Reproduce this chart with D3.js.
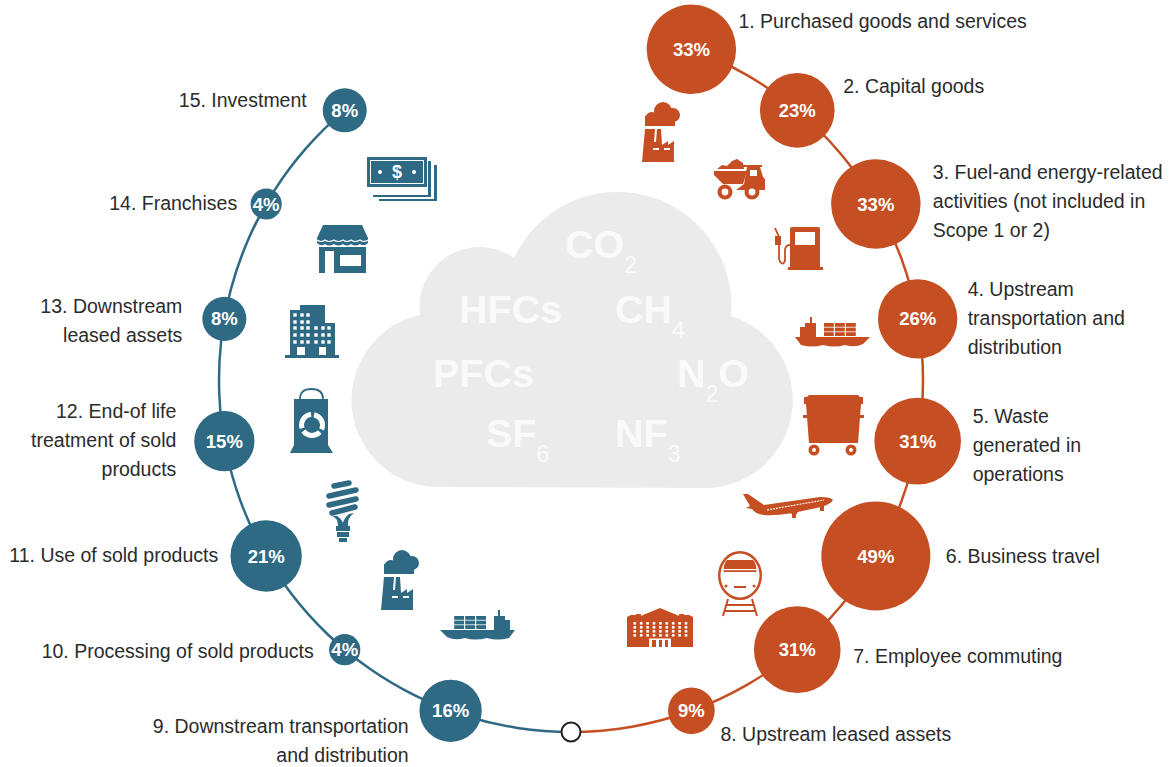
<!DOCTYPE html>
<html>
<head>
<meta charset="utf-8">
<script src="https://cdn.jsdelivr.net/npm/d3@7/dist/d3.min.js"></script>
<style>
    html, body { margin: 0; padding: 0; background: #fff; }
    svg { display: block; font-family: "Liberation Sans", Arial, sans-serif; }
</style>
</head>
<body>
<div id="container"></div>
<script>
//scope 3 categories, one entry per line of label
var categories = [
    ["1. Purchased goods and services"],
    ["2. Capital goods"],
    ["3. Fuel-and energy-related", "activities (not included in", "Scope 1 or 2)"],
    ["4. Upstream", "transportation and", "distribution"],
    ["5. Waste", "generated in", "operations"],
    ["6. Business travel"],
    ["7. Employee commuting"],
    ["8. Upstream leased assets"],
    ["9. Downstream transportation", "and distribution"],
    ["10. Processing of sold products"],
    ["11. Use of sold products"],
    ["12. End-of life", "treatment of sold", "products"],
    ["13. Downstream", "leased assets"],
    ["14. Franchises"],
    ["15. Investment"]
];
var shares = [33, 23, 33, 26, 31, 49, 31, 9, 16, 4, 21, 15, 8, 4, 8];
var gases = ["CO", "HFCs", "CH", "PFCs", "N", "SF", "NF"];
var gasSubs = ["2", "", "4", "", "2", "6", "3"];
var gasTails = ["", "", "", "", "O", "", ""];
var iconNames = ["factory", "truck", "pump", "ship", "dumpster", "plane", "train", "campus",
    "shipFlip", "factory", "bulb", "bag", "office", "shop", "money"];

(function(){
    function setChart(){
        var width = 1174,
            height = 767,
            orange = "#c64e23",
            teal = "#2f6a85";

        var svg = d3.select("#container")
            .append("svg")
            .attr("width", width)
            .attr("height", height);

        //18 slots round the ring, slot 0 (the top) stays empty and slot 9 is the open marker
        var angle = d3.scaleLinear().domain([0, 18]).range([0, 2 * Math.PI]);
        var ring = d3.scaleLinear().domain([0, 1]).range([0, 352]);
        var size = d3.scaleSqrt().domain([0, 49]).range([0, 54.5]);
        var cx = 571, cy = 380;

        function slot(i){ return i < 8 ? i + 1 : i + 2; }
        function px(s){ return cx + ring(1) * Math.sin(angle(s)); }
        function py(s){ return cy - ring(1) * Math.cos(angle(s)); }
        function sideColor(i){ return i < 8 ? orange : teal; }

        drawCloud(svg);

        //ring lines
        var arc = d3.arc().innerRadius(ring(1) - 1.25).outerRadius(ring(1) + 1.25);
        var lines = svg.append("g").attr("transform", "translate(" + cx + "," + cy + ")");
        lines.append("path").attr("fill", orange)
            .attr("d", arc({startAngle: angle(1), endAngle: angle(9)}));
        lines.append("path").attr("fill", teal)
            .attr("d", arc({startAngle: angle(9), endAngle: angle(16)}));

        //open marker at the bottom
        svg.append("circle")
            .attr("cx", px(9)).attr("cy", py(9)).attr("r", 9.5)
            .attr("fill", "#fff").attr("stroke", "#222").attr("stroke-width", 2);

        //bubbles
        var bubbles = svg.selectAll(".bubble")
            .data(shares)
            .enter()
            .append("g")
            .attr("class", "bubble")
            .attr("transform", function(d, i){ return "translate(" + px(slot(i)) + "," + py(slot(i)) + ")"; });
        bubbles.append("circle")
            .attr("r", function(d){ return size(d); })
            .attr("fill", function(d, i){ return sideColor(i); });
        bubbles.append("text")
            .attr("text-anchor", "middle")
            .attr("y", 6.5)
            .attr("fill", "#fff")
            .attr("font-size", 18.5)
            .attr("font-weight", "bold")
            .text(function(d){ return d + "%"; });

        //label anchor relative to the bubble centre, y is the first line
        var labelOffset = [
            [47, -21], [46, -17], [57, -25], [50, -23], [55, -18],
            [70, 7], [56, 13], [29, 30],
            [-42, 22], [-31, 8], [-48, 6], [-48, -23], [-42, -6], [-29, 6], [-38, -3]
        ];
        svg.selectAll(".label")
            .data(categories)
            .enter()
            .append("text")
            .attr("class", "label")
            .attr("fill", "#2b2b2b")
            .attr("font-size", 19.5)
            .attr("text-anchor", function(d, i){ return i < 8 ? "start" : "end"; })
            .each(function(lines, i){
                var x = px(slot(i)) + labelOffset[i][0],
                    y = py(slot(i)) + labelOffset[i][1];
                d3.select(this).selectAll("tspan")
                    .data(lines)
                    .enter()
                    .append("tspan")
                    .attr("x", x)
                    .attr("y", function(d, j){ return y + j * 29; })
                    .text(function(d){ return d; });
            });

        //icon top left corners, same order as categories
        var iconAt = [
            [642, 102], [714, 159], [774, 227], [795, 317], [803, 395], [743, 493], [718, 551], [627, 608],
            [442, 610], [381, 550], [325, 480], [290, 388], [285, 305], [317, 225], [367, 157]
        ];
        iconNames.forEach(function(name, i){
            var g = svg.append("g")
                .attr("transform", "translate(" + iconAt[i][0] + "," + iconAt[i][1] + ")")
                .attr("fill", sideColor(i));
            icons[name](g, sideColor(i));
        });
    };

    function drawCloud(svg){
        svg.append("path")
            .attr("fill", "#ebebeb")
            .attr("d", "M440 487 A87 87 0 0 1 420 315 A60 60 0 0 1 514 258 A114 114 0 0 1 731 316 A88 88 0 0 1 705 488 Z");
        var gasAt = [[565, 258], [459, 323], [615, 323], [433, 387], [677, 387], [486, 447], [615, 447]];
        var t = svg.selectAll(".gas")
            .data(gases)
            .enter()
            .append("text")
            .attr("class", "gas")
            .attr("x", function(d, i){ return gasAt[i][0]; })
            .attr("y", function(d, i){ return gasAt[i][1]; })
            .attr("fill", "#fafafa")
            .attr("font-size", 39.5)
            .attr("font-weight", "bold");
        t.append("tspan").text(function(d){ return d; });
        t.append("tspan")
            .attr("dy", 15)
            .attr("font-size", 23)
            .attr("font-weight", "normal")
            .text(function(d, i){ return gasSubs[i]; });
        t.append("tspan")
            .attr("dy", -15)
            .text(function(d, i){ return gasTails[i]; });
    };

    //small helpers for the pictograms
    function p(g, d, fill){
        var s = g.append("path").attr("d", d);
        if (fill) s.attr("fill", fill);
        return s;
    };
    function r(g, x, y, w, h, fill){
        var s = g.append("rect").attr("x", x).attr("y", y).attr("width", w).attr("height", h);
        if (fill) s.attr("fill", fill);
        return s;
    };
    function c(g, x, y, rad, fill){
        var s = g.append("circle").attr("cx", x).attr("cy", y).attr("r", rad);
        if (fill) s.attr("fill", fill);
        return s;
    };
    function drawShip(g){
        p(g, "M0 20 H75 L68 27 Q60 31 50 28 Q40 31 28 28 Q18 31 6 28 Z");
        p(g, "M5 20 V10 H10 V6 H15 V0 H17 V6 H21 V20 Z");
        for (var row = 0; row < 3; row++){
            for (var col = 0; col < 3; col++){
                r(g, 29 + col * 11, 6 + row * 4.6, 9.8, 3.8);
            }
        }
    };

    var icons = {
        factory: function(g){
            c(g, 21, 9, 9); c(g, 10, 17, 7); c(g, 31, 13, 7);
            r(g, 3, 14, 30, 10);
            p(g, "M0 60 L3 27 H19 L20 43 L26 39 V43 L32 39 V60 Z");
            p(g, "M14 27 L13 40", "none").attr("stroke", "#fff").attr("stroke-width", 2);
            r(g, 11, 46, 6, 2, "#fff"); r(g, 22, 46, 6, 2, "#fff");
        },
        truck: function(g){
            p(g, "M3 10 L8 6 L13 7 L18 2 L23 0 L29 4 L30 10 Z");
            p(g, "M0 12 H33 L29 25 H9 L0 16 Z");
            r(g, 28, 6, 20, 2);
            p(g, "M33 8 H46 L49 18 L51 20 V31 H22 L30 25 Z");
            r(g, 36, 11, 7, 6, "#fff");
            c(g, 11, 33, 7.5); c(g, 11, 33, 3.4, "#fff");
            c(g, 38, 33, 7.5); c(g, 38, 33, 3.4, "#fff");
        },
        pump: function(g, col){
            p(g, "M16 2 Q16 0 18 0 H44 Q46 0 46 2 V40 H16 Z");
            r(g, 14, 40, 35, 3);
            r(g, 21, 5, 20, 13, "#fff");
            p(g, "M1 1 L5 10 L5 32 Q8 40 11 34 L11 24 Q11 18 16 18", "none")
                .attr("stroke", col).attr("stroke-width", 1.8);
            r(g, 1, 9, 6, 9);
        },
        ship: function(g){
            drawShip(g);
        },
        shipFlip: function(g){
            g.append("g").attr("transform", "translate(73,0) scale(-1,1)").call(drawShip);
        },
        dumpster: function(g){
            r(g, 1, 2, 59, 7);
            p(g, "M4 2 L6 0 H55 L57 2 Z");
            p(g, "M3 9 H58 L55 48 H6 Z");
            r(g, 0, 20, 61, 3);
            c(g, 11, 55, 5.5); c(g, 11, 55, 2, "#fff");
            c(g, 48, 55, 5.5); c(g, 48, 55, 2, "#fff");
        },
        plane: function(g){
            p(g, "M0 1 H5 L21 12 L77 4 Q88 4 90 7 Q88 11 78 14 L50 20 Q30 23 21 22 Q12 21 9 16 L3 15 L7 13 Z");
            p(g, "M44 17 H56 L53 22 H50 Z");
            r(g, 49, 20, 4, 5);
            r(g, 77, 13, 4, 5);
            p(g, "M24 17 L81 7", "none").attr("stroke", "#fff").attr("stroke-width", 1.1)
                .attr("stroke-dasharray", "2 1");
        },
        train: function(g, col){
            g.append("ellipse").attr("cx", 22).attr("cy", 24.5).attr("rx", 22).attr("ry", 24.5);
            g.append("ellipse").attr("cx", 22).attr("cy", 24.5).attr("rx", 19.5).attr("ry", 22).attr("fill", "#fff");
            p(g, "M5.5 21 Q5.5 12 9 9 H35 Q38.5 12 38.5 21 Z");
            r(g, 5, 18, 34, 1.2, "#fff");
            r(g, 16, 35, 12, 2);
            c(g, 8, 35, 1.5); c(g, 36, 35, 1.5);
            p(g, "M10 48 L5 65 M34 48 L39 65 M8 54 H36 M6 60 H38", "none")
                .attr("stroke", col).attr("stroke-width", 2);
        },
        campus: function(g){
            p(g, "M0 39 V9 L4 7 H9 V6 H14 V8 L16 7 L33 0 L50 7 L52 8 V6 H57 V7 H62 L66 9 V39 Z");
            for (var row = 0; row < 4; row++){
                for (var col = 0; col < 9; col++){
                    r(g, 6.5 + col * 6.4, 14 + row * 4, 2.6, 2.6, "#fff");
                }
            }
            r(g, 22, 30.5, 22, 1.5, "#fff");
            r(g, 22, 32, 3, 7, "#fff");
            r(g, 29, 32, 3, 7, "#fff");
            r(g, 35, 32, 3, 7, "#fff");
            r(g, 41, 32, 3, 7, "#fff");
        },
        money: function(g){
            r(g, 12, 8, 58, 36);
            r(g, 11, 7, 56, 35, "#fff");
            r(g, 6, 4, 58, 36);
            r(g, 5, 3, 56, 35, "#fff");
            r(g, 0, 0, 60, 30);
            r(g, 3, 3, 54, 24, "#fff");
            r(g, 4, 4, 52, 22);
            g.append("text").attr("x", 30).attr("y", 21).attr("text-anchor", "middle")
                .attr("fill", "#fff").attr("font-size", 18).attr("font-weight", "bold").text("$");
            c(g, 13, 15, 2, "#fff"); c(g, 47, 15, 2, "#fff");
        },
        shop: function(g){
            p(g, "M6 0 H45 L51 13 V18 Q47 22 43 19 Q38 22 34 19 Q30 22 26 19 Q21 22 17 19 Q12 22 8 19 Q4 22 0 18 V13 Z");
            p(g, "M0 15 Q4 18 8 15 Q12 18 17 15 Q21 18 26 15 Q30 18 34 15 Q38 18 43 15 Q47 18 51 15", "none")
                .attr("stroke", "#fff").attr("stroke-width", 1.2);
            r(g, 2, 22, 47, 26);
            r(g, 8, 26, 9, 22, "#fff");
            r(g, 23, 30, 21, 11, "#fff");
        },
        office: function(g){
            r(g, 5, 5, 12, 45);
            r(g, 15, 0, 25, 50);
            r(g, 27, 18, 23, 32);
            r(g, 0, 50, 54, 3);
            var colsLeft = [10, 17, 23], colsRight = [31, 38, 44], rows = [10, 17, 23, 30, 37];
            rows.forEach(function(y, j){
                colsLeft.forEach(function(x){ r(g, x - 1.7, y - 1.7, 3.4, 3.4, "#fff"); });
                if (j > 1) colsRight.forEach(function(x){ r(g, x - 1.7, y - 1.7, 3.4, 3.4, "#fff"); });
            });
            r(g, 12, 42, 8, 8, "#fff"); r(g, 34, 42, 7, 8, "#fff");
        },
        bag: function(g, col){
            p(g, "M10 11 Q10 1 21.5 1 Q33 1 33 11", "none").attr("stroke", col).attr("stroke-width", 1.8);
            p(g, "M4 11 H38 V57 L43 65 H0 L4 57 Z");
            var arrow = d3.arc().innerRadius(8).outerRadius(13);
            var wheel = g.append("g").attr("transform", "translate(22,37)").attr("fill", "#fff");
            [0.2, 2.3, 4.4].forEach(function(a){
                wheel.append("path").attr("d", arrow({startAngle: a, endAngle: a + 1.8}));
            });
        },
        bulb: function(g, col){
            p(g, "M9 6 L24 3 M4 16 L31 10 M4 25 L31 19 M7 33 L30 27", "none")
                .attr("stroke", col).attr("stroke-width", 5.5).attr("stroke-linecap", "round");
            p(g, "M7 36 Q13 38 13 46 H23 Q22 38 29 33 L24 34 Q19 38 18 43 Q16 38 12 36 Z");
            r(g, 11, 46, 14, 5);
            r(g, 12, 52, 12, 5);
            r(g, 14, 58, 8, 4);
        }
    };

    setChart();
})();
</script>
</body>
</html>
